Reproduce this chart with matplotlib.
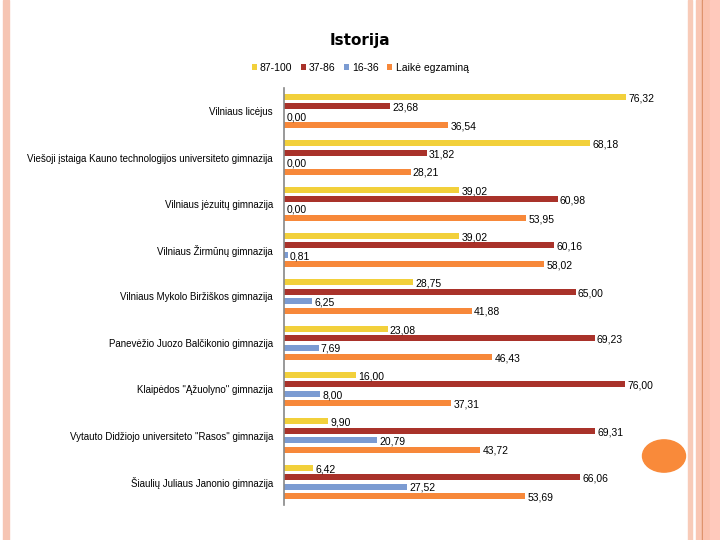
import matplotlib.pyplot as plt
import numpy as np
from matplotlib.patches import Rectangle, Circle

schools = [
    "Vilniaus licėjus",
    "Viešoji įstaiga Kauno technologijos universiteto gimnazija",
    "Vilniaus jėzuitų gimnazija",
    "Vilniaus Žirmūnų gimnazija",
    "Vilniaus Mykolo Biržiškos gimnazija",
    "Panevėžio Juozo Balčikonio gimnazija",
    "Klaipėdos \"Ąžuolyno\" gimnazija",
    "Vytauto Didžiojo universiteto \"Rasos\" gimnazija",
    "Šiaulių Juliaus Janonio gimnazija",
]
series_names = ["87-100", "37-86", "16-36", "Laikė egzaminą"]
top = [76.32, 68.18, 39.02, 39.02, 28.75, 23.08, 16.00, 9.90, 6.42]
mid = [23.68, 31.82, 60.98, 60.16, 65.00, 69.23, 76.00, 69.31, 66.06]
low = [0.00, 0.00, 0.00, 0.81, 6.25, 7.69, 8.00, 20.79, 27.52]
took = [36.54, 28.21, 53.95, 58.02, 41.88, 46.43, 37.31, 43.72, 53.69]

colors = ["#F2D03B", "#A9322A", "#7B9BD2", "#F7883A"]

plt.rcParams["font.family"] = ["Liberation Sans", "DejaVu Sans"]

fig = plt.figure(figsize=(7.2, 5.4), dpi=100)

# slide decorations
fig.patches.append(Rectangle((3 / 720, 0), 6 / 720, 1, transform=fig.transFigure,
                             color="#F6C5B3", zorder=0))
for x0, w, c in [(688, 4, "#F8CBB8"), (696, 6, "#F9C7B4"), (702, 1, "#D98A5E"),
                 (703, 7, "#FBC2AE"), (710, 10, "#FFC9BC")]:
    fig.patches.append(Rectangle((x0 / 720, 0), w / 720, 1, transform=fig.transFigure,
                                 color=c, zorder=0))
fig.patches.append(Circle((664 / 720, 1 - 456 / 540), 21.5 / 720, transform=fig.transFigure,
                          color="#F98A3A", zorder=0))

ax = fig.add_axes([284 / 720, 35 / 540, 359 / 720, 417 / 540])

y = np.arange(len(schools))
pitch = 0.203
height = 0.13
for k, (vals, name) in enumerate(zip([top, mid, low, took], series_names)):
    pos = y + (k - 1.5) * pitch
    ax.barh(pos, vals, height=height, color=colors[k], label=name)
    for p, v in zip(pos, vals):
        ax.text(v + 0.5, p + 0.03, f"{v:.2f}".replace(".", ","), fontsize=7.5,
                va="center", ha="left", color="black")

ax.set_xlim(0, 80)
ax.set_ylim(8.5, -0.5)
ax.set_yticks(y)
ax.set_yticklabels(schools, fontsize=7)
ax.tick_params(axis="y", length=0, pad=8)
ax.set_xticks([])
for side in ["top", "right", "bottom"]:
    ax.spines[side].set_visible(False)
ax.spines["left"].set_color("#888888")
ax.spines["left"].set_linewidth(1.2)
ax.patch.set_alpha(0)

fig.text(0.5, 1 - 40 / 540, "Istorija", ha="center", va="center",
         fontsize=11, fontweight="heavy", family="DejaVu Sans")
fig.legend(loc="center", bbox_to_anchor=(0.5, 1 - 68 / 540), ncol=4, frameon=False,
           fontsize=7.5, handlelength=0.5, handleheight=0.5, handletextpad=0.3,
           columnspacing=0.8)

fig.savefig("out.png", dpi=100)
